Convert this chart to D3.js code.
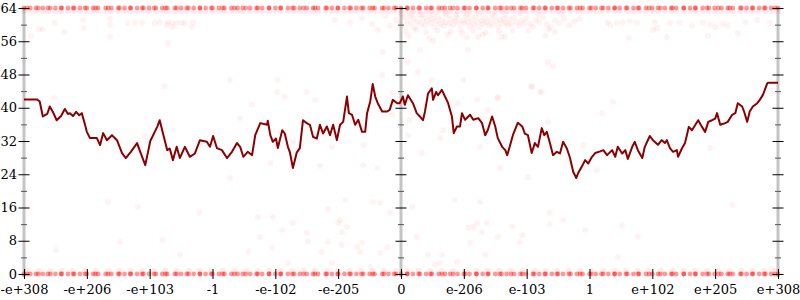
<!DOCTYPE html>
<html>
<head>
<meta charset="utf-8">
<script src="https://cdn.jsdelivr.net/npm/d3@7"></script>
<style>
  html, body { margin: 0; padding: 0; background: #fff; }
  svg { display: block; }
  text { font-family: "DejaVu Serif", serif; font-size: 13px; fill: #000; }
</style>
</head>
<body>
<svg id="chart" width="800" height="300"></svg>
<script>
// ---------------- DATA ----------------
const xTickPos = [-6, -5, -4, -3, -2, -1, 0, 1, 2, 3, 4, 5, 6];
const xTickLabels = ["-e+308", "-e+206", "-e+103", "-1", "-e-102", "-e-205", "0",
                     "e-206", "e-103", "1", "e+102", "e+205", "e+308"];
const yMajorTicks = [0, 8, 16, 24, 32, 40, 48, 56, 64];
const yMinorTicks = [4, 12, 20, 28, 36, 44, 52, 60];
const yAxisPositions = [-6, 0, 6];

// moving-average line: x (axis units) and value
const lineX = [-6.00,-5.79,-5.75,-5.70,-5.63,-5.59,-5.54,-5.48,-5.41,-5.35,-5.30,-5.27,-5.22,-5.17,-5.12,-5.08,-5.03,-5.00,-4.95,-4.84,-4.79,-4.74,-4.68,-4.60,-4.52,-4.44,-4.38,-4.30,-4.20,-4.15,-4.07,-3.99,-3.88,-3.84,-3.79,-3.72,-3.68,-3.63,-3.57,-3.52,-3.44,-3.36,-3.28,-3.20,-3.09,-3.04,-2.99,-2.93,-2.85,-2.77,-2.69,-2.61,-2.56,-2.51,-2.44,-2.37,-2.32,-2.24,-2.13,-2.12,-2.08,-2.04,-1.99,-1.96,-1.89,-1.85,-1.80,-1.77,-1.72,-1.66,-1.61,-1.56,-1.50,-1.45,-1.40,-1.34,-1.29,-1.24,-1.18,-1.13,-1.08,-1.02,-0.97,-0.92,-0.86,-0.83,-0.78,-0.73,-0.68,-0.62,-0.57,-0.54,-0.49,-0.45,-0.41,-0.37,-0.30,-0.22,-0.18,-0.13,-0.06,-0.02,0.03,0.06,0.11,0.19,0.25,0.30,0.35,0.38,0.43,0.49,0.51,0.56,0.59,0.65,0.70,0.75,0.81,0.84,0.89,0.94,0.97,1.02,1.10,1.15,1.23,1.29,1.34,1.38,1.45,1.50,1.54,1.61,1.66,1.69,1.73,1.78,1.86,1.93,1.97,2.02,2.08,2.13,2.18,2.24,2.28,2.32,2.37,2.42,2.48,2.53,2.58,2.64,2.69,2.74,2.79,2.82,2.88,2.93,2.98,3.04,3.09,3.17,3.22,3.28,3.36,3.41,3.45,3.52,3.57,3.61,3.68,3.72,3.77,3.84,3.88,3.96,4.01,4.09,4.15,4.20,4.23,4.28,4.33,4.39,4.41,4.47,4.52,4.55,4.58,4.63,4.68,4.73,4.79,4.84,4.89,4.95,5.00,5.03,5.08,5.16,5.20,5.27,5.32,5.36,5.43,5.46,5.51,5.55,5.60,5.67,5.71,5.76,5.83,5.84,6.00];
const lineV = [42,42,41.5,37.9,38.5,40.3,39,37,38,39.7,38.5,38.7,38,39,38.2,38.7,36,34.2,32.7,32.7,31,33.9,32.2,33.4,32.2,29.1,27.9,29.4,31.5,29.4,26.2,32,35.4,37,33.9,29.8,30.2,27.4,30.6,27.9,30.6,28.2,29,32.2,31.8,30.6,33.2,30.3,29.8,27.9,29.4,31.5,30.6,28.2,29.4,28.6,33.4,36.3,35.9,36.9,33.4,31.8,32.6,30.3,34.6,33.8,30.6,29.4,25.5,29.2,30.3,37,36.3,35.9,33,32.6,35.9,33.8,35.5,33.4,35.9,32.2,35.9,36.6,42.7,38.7,38.3,35.9,37.1,34.2,34.2,38.7,41.5,45.7,42.7,41.1,39.1,39.1,39.5,41.9,41.1,41.1,42.7,40.7,43,41.1,38.7,37.9,37,39,43.4,44.7,41.9,43.8,43,44.3,42.7,41.1,37.9,33.9,35.5,35.5,38.7,37.1,38.3,37.1,37.5,36.3,33.4,34.6,37.9,35.5,32.7,30.6,29.8,28.6,30.6,33.4,36.4,35.5,33.8,33.4,29.1,31.5,30.6,35.1,33.4,34.2,31.5,28.6,29.4,29,31.8,30.2,27.9,24.6,23.1,24.3,25.9,27.4,26.6,28.2,29.1,29.5,29.8,28.6,29.8,28.2,30.6,29,29.8,27.7,30.6,31.8,29.8,27.9,30.6,33.2,32.2,31.1,32.2,31.5,32.2,30.3,29.4,29.8,28.2,30.2,31.5,33.4,35.4,34.6,35.8,37,35.4,34.2,36.6,37,37.4,38.7,35.9,36.3,36.6,38.3,38.7,41.1,40.3,39.1,36.6,39.1,40.3,41.1,41.9,43.1,45.9,46,46];

// samples sitting on the extremes (value 0 and 64)
const edgeRowX = [-6,-5.9,-5.81,-5.7,-5.62,-5.5,-5.41,-5.3,-5.2,-5.11,-5.0,-4.9,-4.82,-4.7,-4.61,-4.5,-4.4,-4.31,-4.2,-4.1,-4.01,-3.9,-3.8,-3.72,-3.6,-3.5,-3.41,-3.3,-3.2,-3.11,-3.0,-2.9,-2.81,-2.7,-2.6,-2.52,-2.4,-2.3,-2.21,-2.1,-2.0,-1.91,-1.8,-1.7,-1.61,-1.5,-1.4,-1.32,-1.2,-1.1,-1.01,-0.9,-0.8,-0.71,-0.6,-0.5,-0.42,-0.3,-0.2,-0.11,0,0.1,0.19,0.3,0.4,0.49,0.6,0.7,0.78,0.9,1.0,1.09,1.2,1.3,1.39,1.5,1.6,1.68,1.8,1.9,1.99,2.1,2.2,2.29,2.4,2.5,2.58,2.7,2.8,2.89,3.0,3.1,3.19,3.3,3.4,3.48,3.6,3.7,3.79,3.9,4.0,4.09,4.2,4.3,4.38,4.5,4.6,4.69,4.8,4.9,4.99,5.1,5.2,5.28,5.4,5.5,5.59,5.7,5.8,5.89,6.0];
// samples just inside the extremes
const nearRowX = [-5.95,-5.77,-5.58,-5.4,-5.22,-5.03,-4.86,-4.66,-4.48,-4.3,-4.12,-3.93,-3.75,-3.57,-3.38,-3.2,-3.02,-2.84,-2.65,-2.47,-2.28,-2.1,-1.92,-1.73,-1.55,-1.37,-1.18,-1.0,-0.82,-0.63,-0.45,-0.27,-0.08,0.1,0.28,0.47,0.65,0.83,1.02,1.2,1.38,1.57,1.75,1.93,2.12,2.3,2.48,2.67,2.85,3.03,3.22,3.4,3.58,3.77,3.95,4.13,4.32,4.5,4.68,4.87,5.05,5.23,5.42,5.6,5.78,5.95];

// scattered samples [x, value]
const scatterPoints = [
  [-5.89,57.3],[-5.76,58.9],[-5.70,58.9],[-5.51,60.4],[-5.36,58.2],[-5.06,61.1],[-5.05,59.2],[-4.63,61.4],[-4.63,59.9],[-4.63,57.0],
  [-4.35,60.4],[-4.23,60.4],[-4.12,60.4],[-3.92,60.4],[-3.84,60.6],[-3.72,59.9],[-3.71,60.6],[-3.64,60.4],[-3.63,59.4],[-3.57,60.4],
  [-3.49,60.4],[-3.44,60.4],[-3.33,59.4],[-3.31,60.6],[-3.71,55.6],[-3.76,45.2],[-5.51,42.3],[-4.07,33.0],
  [-1.05,61.1],[-0.81,60.6],[-0.62,61.6],[-0.46,60.1],[-0.25,62.1],[-0.18,59.7],[-0.37,58.7],
  [-0.08,61.2],[-0.02,60.3],[0.03,61.8],[0.06,59.6],[0.1,60.9],[0.13,62.1],[0.16,60.1],[0.2,61.4],[0.22,59.2],[0.26,60.7],
  [0.29,62.3],[0.32,60.2],[0.35,61.5],[0.38,59.8],[0.41,60.9],[0.44,62],[0.47,60.4],[0.5,61.3],[0.53,59.4],[0.56,60.8],
  [0.59,61.9],[0.62,60.1],[0.65,61.1],[0.68,59.7],[0.71,60.6],[0.74,62.2],[0.77,60.3],[0.8,61.4],[0.83,59.9],[0.86,60.9],
  [0.89,61.7],[0.92,60.2],[0.95,58.9],[0.98,61],[1.01,60.4],[1.04,62],[1.07,60.7],[1.1,59.6],[1.13,61.3],[1.16,60.1],
  [1.19,61.8],[1.22,60.5],[1.25,59.3],[1.28,61],[1.31,60.2],[1.34,61.6],[1.37,60.6],[1.4,59.8],[1.43,61.2],[1.46,60],
  [1.49,62.1],[1.52,60.8],[1.55,59.5],[1.58,61.1],[1.61,60.3],[1.64,61.5],[1.67,60.5],[1.7,59.9],[1.73,61.3],[1.76,60.1],
  [1.8,61.7],[1.84,60.6],[1.88,59.7],[1.92,61],[1.96,60.4],[2.0,61.6],[2.05,60.2],[2.1,59.5],[2.15,61.1],[2.2,60.5],
  [2.26,61.7],[2.32,60.1],[2.38,59.3],[2.45,61],[2.52,60.4],[2.6,61.4],[2.68,59.8],[2.76,60.8],[2.84,61.3],
  [0.0,62.6],[0.08,58.4],[0.18,62.5],[0.24,58.7],[0.34,62.4],[0.4,58.2],[0.52,62.5],[0.58,58.6],[0.7,62.6],[0.79,58.3],
  [0.88,62.4],[0.97,57.9],[1.06,62.5],[1.15,58.5],[1.24,62.6],[1.35,58.1],[1.45,62.5],[1.56,58.4],[1.66,62.4],[1.78,58.6],
  [1.9,62.6],[2.03,58.5],[2.18,62.4],[2.35,58.8],[2.55,62.5],
  [0.12,57.3],[0.45,56.8],[0.75,57.5],[1.05,56.9],[1.3,57.6],[1.6,57.1],[2.3,57.4],
  [-0.29,53.4],[0.30,53.9],[0.51,56.1],[1.07,53.9],[1.23,57.0],[1.66,57.0],[0.11,51.0],[0.27,48.6],[-0.30,47.9],[0.49,46.7],
  [0.99,46.7],[1.54,42.6],[2.08,45.0],[2.34,51.0],[2.42,50.0],[2.24,43.8],[2.45,58.2],
  [3.29,60.6],[3.33,59.9],[3.44,60.4],[3.53,60.6],[3.64,60.9],[3.76,60.4],[4.01,58.7],[4.04,60.6],[4.07,59.2],[4.28,60.4],
  [4.44,60.4],[4.63,59.7],[4.81,60.6],[4.92,60.1],[5.00,59.4],[5.12,60.1],[5.20,59.7],[5.36,58.0],[5.48,60.6],[5.67,61.1],
  [5.87,60.4],[3.63,56.8],[4.23,57.0],[4.89,57.3],
  [-4.66,17.3],[-4.19,16.1],[-3.21,14.7],[-4.47,7.7],[-3.80,8.2],[-5.49,5.8],[-3.52,4.6],[-2.28,13.7],[-2.04,13.7],[-1.72,12.3],
  [-1.89,10.6],[-2.24,8.9],[-2.42,5.5],[-2.05,6.3],[-1.80,2.6],[-1.50,9.9],[-1.48,7.9],[-1.16,15.6],[-1.16,7.7],[-1.26,5.3],
  [-1.10,2.6],[-1.00,12.3],[-0.97,13.0],[-0.86,11.3],[-0.94,10.1],[-0.94,7.0],[-0.70,6.5],[-0.62,7.5],[-0.65,5.3],[-0.89,17.8],
  [-0.45,17.3],[-0.33,17.1],[-0.22,6.5],[-0.33,5.1],[-0.49,1.7],[-0.18,14.7],[0.18,16.1],[0.86,17.8],[1.26,17.3],[0.25,8.9],
  [0.43,4.6],[0.65,4.6],[0.54,2.2],[0.62,2.6],[0.89,2.9],[1.07,11.1],[1.15,11.3],[1.21,12.3],[1.37,12.3],[1.29,10.1],
  [1.10,7.5],[1.34,4.6],[1.54,8.9],[1.77,11.5],[1.93,9.4],[1.89,7.7],[2.37,14.7],[2.37,12.0],[2.58,13.0],[2.93,10.6],
  [5.27,16.6],[3.52,11.8],[3.77,8.9],[3.45,4.1],[5.90,1.2],
  [-2.72,46.7],[-1.96,46.7],[-1.97,43.8],[-1.85,42.6],[-1.50,43.8],[-2.37,40.7],[-1.37,41.9],[-2.56,37.5],[-0.14,43.6],[-0.14,38.3],
  [-0.60,31.0],[-1.10,30.6],[-1.72,31.8],[-2.08,26.7],[-1.29,26.0],[-0.60,26.2],[-2.72,23.1],[-0.38,25.5],[2.08,45.2],[2.21,43.8],
  [1.54,42.3],[0.91,41.1],[1.21,41.9],[1.38,39.5],[0.14,37.1],[0.67,34.6],[0.62,32.7],[0.11,33.4],[2.34,36.6],[2.90,31.0],
  [1.26,30.6],[0.33,29.1],[1.58,25.5],[2.02,23.3],[3.12,25.0],[3.37,41.4],[3.20,38.7],[4.92,30.3]
];

// ---------------- CHART ----------------
const W = 800, H = 300;
const margin = { top: 8, right: 22, bottom: 26, left: 24 };
const svg = d3.select("#chart");

const x = d3.scaleLinear().domain([-6, 6]).range([margin.left, W - margin.right]);
const y = d3.scaleLinear().domain([0, 64]).range([H - margin.bottom, margin.top]);

// gray vertical axis bars
svg.append("g").selectAll("line").data(yAxisPositions).join("line")
  .attr("x1", d => x(d)).attr("x2", d => x(d))
  .attr("y1", y(64) - 1).attr("y2", y(0) + 3)
  .attr("stroke", "#c4c4c4").attr("stroke-width", 3);

// dots
const dots = svg.append("g");
function drawDots(data, opacity, r) {
  dots.append("g").selectAll("circle").data(data).join("circle")
    .attr("cx", d => x(d[0])).attr("cy", d => y(d[1]))
    .attr("r", r)
    .attr("fill", "red").attr("fill-opacity", opacity);
}
const edgeAll = edgeRowX.concat(nearRowX);
drawDots(nearRowX.map(d => [d, 0.7]), 0.08, 3);
drawDots(edgeRowX.map(d => [d, 63.3]), 0.08, 3);
drawDots(scatterPoints, 0.05, 3);
drawDots(edgeAll.map(d => [d, 0]), 0.4, 2.4);
drawDots(edgeAll.map(d => [d, 64]), 0.38, 2.4);

// y axes (ticks)
yAxisPositions.forEach((p, i) => {
  const gMaj = svg.append("g").attr("transform", `translate(${x(p)},0)`)
    .call(d3.axisLeft(y).tickValues(yMajorTicks).tickSize(0).tickPadding(7)
      .tickFormat(i === 0 ? d3.format("d") : () => ""));
  gMaj.select(".domain").remove();
  gMaj.selectAll(".tick line").attr("x1", -5.5).attr("x2", 5.5).attr("stroke", "#000");
  gMaj.selectAll(".tick text").attr("font-family", "DejaVu Serif").attr("font-size", 13).attr("fill", "#000");

  const gMin = svg.append("g").attr("transform", `translate(${x(p)},0)`)
    .call(d3.axisLeft(y).tickValues(yMinorTicks).tickSize(0).tickFormat(() => ""));
  gMin.select(".domain").remove();
  gMin.selectAll(".tick line").attr("x1", -3).attr("x2", 3).attr("stroke", "#555");
});

// x axis
const gx = svg.append("g").attr("transform", `translate(0,${y(0)})`)
  .call(d3.axisBottom(x).tickValues(xTickPos).tickSize(0).tickPadding(11)
    .tickFormat((d, i) => xTickLabels[i]));
gx.select(".domain").remove();
gx.selectAll(".tick line").attr("y1", -5).attr("y2", 5).attr("stroke", "#000");
gx.selectAll(".tick text").attr("font-family", "DejaVu Serif").attr("font-size", 13).attr("fill", "#000");

// line
const line = d3.line().x((d, i) => x(lineX[i])).y((d, i) => y(lineV[i]));
svg.append("path")
  .datum(lineV)
  .attr("d", line)
  .attr("fill", "none")
  .attr("stroke", "#8b0000")
  .attr("stroke-width", 2)
  .attr("stroke-linejoin", "round");
</script>
</body>
</html>
